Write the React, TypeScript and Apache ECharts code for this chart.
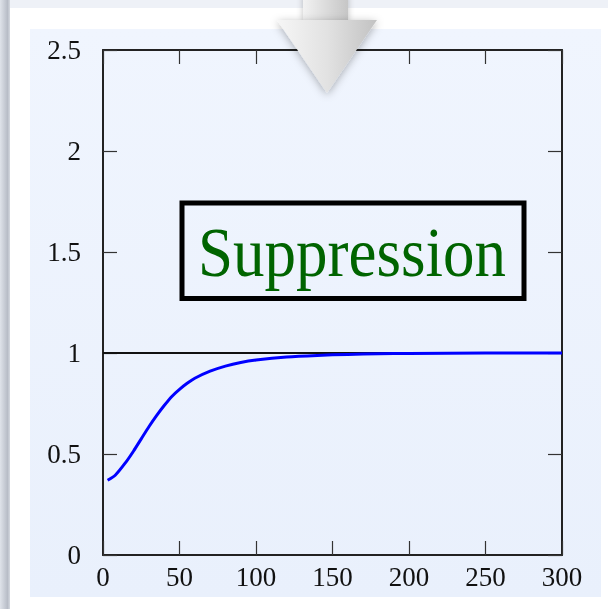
import React, { useEffect, useRef } from "react";
import * as echarts from "echarts";

// Response curve (x, ratio) and the reference level
const curveX = [3, 8, 15, 20, 25, 30, 35, 40, 45, 50, 55, 60, 70, 80, 90, 100, 120, 140, 160, 180, 200, 250, 300];
const curveY = [0.37, 0.395, 0.46, 0.515, 0.575, 0.635, 0.69, 0.74, 0.785, 0.82, 0.85, 0.875, 0.91, 0.935, 0.953, 0.965, 0.98, 0.988, 0.993, 0.996, 0.998, 1.0, 1.0];
const refX = [0, 300];
const refY = [1, 1];

const xTicks = [0, 50, 100, 150, 200, 250, 300];
const yTicks = [0, 0.5, 1, 1.5, 2, 2.5];
const boxLabel = "Suppression";

const SERIF = "'Liberation Serif', 'DejaVu Serif', serif";

export default function App() {
  const ref = useRef<HTMLDivElement>(null);

  useEffect(() => {
    if (!ref.current) return;
    const chart = echarts.init(ref.current, undefined, { renderer: "svg" });

    const axisLine = { show: true, onZero: false, lineStyle: { color: "#222", width: 2 } };
    const axisTick = { show: true, inside: true, length: 14, lineStyle: { color: "#333", width: 1.2 } };
    const labelStyle = { color: "#111", fontFamily: SERIF, fontSize: 27 };

    chart.setOption({
      animation: false,
      grid: { left: 103, right: 46, top: 50, bottom: 54, containLabel: false },
      xAxis: [
        {
          type: "value",
          position: "bottom",
          min: xTicks[0],
          max: xTicks[xTicks.length - 1],
          interval: 50,
          axisLine,
          axisTick,
          splitLine: { show: false },
          axisLabel: { ...labelStyle, margin: 8 },
        },
        {
          type: "value",
          position: "top",
          min: xTicks[0],
          max: xTicks[xTicks.length - 1],
          interval: 50,
          axisLine,
          axisTick,
          splitLine: { show: false },
          axisLabel: { show: false },
        },
      ],
      yAxis: [
        {
          type: "value",
          position: "left",
          min: yTicks[0],
          max: yTicks[yTicks.length - 1],
          interval: 0.5,
          axisLine,
          axisTick,
          splitLine: { show: false },
          axisLabel: { ...labelStyle, margin: 22 },
        },
        {
          type: "value",
          position: "right",
          min: yTicks[0],
          max: yTicks[yTicks.length - 1],
          interval: 0.5,
          axisLine,
          axisTick,
          splitLine: { show: false },
          axisLabel: { show: false },
        },
      ],
      series: [
        {
          type: "line",
          data: refX.map((x, i) => [x, refY[i]]),
          showSymbol: false,
          lineStyle: { color: "#111", width: 2 },
          z: 3,
        },
        {
          type: "line",
          data: curveX.map((x, i) => [x, curveY[i]]),
          smooth: 0.3,
          showSymbol: false,
          lineStyle: { color: "#0000ff", width: 3 },
          z: 4,
        },
      ],
      graphic: [
        // page backdrop
        { type: "rect", z: -100, silent: true, shape: { x: 0, y: 0, width: 608, height: 609 }, style: { fill: "#eef1f7" } },
        {
          type: "rect", z: -99, silent: true,
          shape: { x: 0, y: 0, width: 10, height: 609 },
          style: {
            fill: new echarts.graphic.LinearGradient(0, 0, 1, 0, [
              { offset: 0, color: "#dfe3ea" },
              { offset: 0.75, color: "#b8bdc7" },
              { offset: 1, color: "#d5d9e0" },
            ]),
          },
        },
        { type: "rect", z: -98, silent: true, shape: { x: 10, y: 8, width: 598, height: 601 }, style: { fill: "#ffffff" } },
        {
          type: "rect", z: -97, silent: true,
          shape: { x: 30, y: 29, width: 571, height: 568 },
          style: {
            fill: new echarts.graphic.LinearGradient(0, 0, 0, 1, [
              { offset: 0, color: "#f0f5fe" },
              { offset: 1, color: "#e9f0fc" },
            ]),
          },
        },
        // labelled box
        {
          type: "rect", z: 50, silent: true,
          shape: { x: 182, y: 203, width: 342, height: 95.5 },
          style: { fill: "rgba(0,0,0,0)", stroke: "#000", lineWidth: 5 },
        },
        {
          type: "text", z: 51, silent: true,
          x: 352, y: 252, scaleY: 1.1,
          style: {
            text: boxLabel,
            fill: "#006400",
            font: `63px ${SERIF}`,
            align: "center",
            verticalAlign: "middle",
          },
        },
        // down arrow
        {
          type: "group", z: 100,
          children: [
            {
              type: "rect", z: 100,
              shape: { x: 303, y: -5, width: 45, height: 27 },
              style: {
                fill: new echarts.graphic.LinearGradient(0, 0, 1, 0, [
                  { offset: 0, color: "#f2f2f2" },
                  { offset: 1, color: "#c6c6c6" },
                ]),
                shadowBlur: 6, shadowColor: "rgba(0,0,0,0.25)",
              },
            },
            {
              type: "polygon", z: 101,
              shape: { points: [[277, 20], [377, 20], [327, 93]] },
              style: {
                fill: new echarts.graphic.LinearGradient(0, 0, 1, 0, [
                  { offset: 0, color: "#f6f6f6" },
                  { offset: 0.5, color: "#e2e2e2" },
                  { offset: 1, color: "#c2c2c2" },
                ]),
                shadowBlur: 8, shadowColor: "rgba(0,0,0,0.3)", shadowOffsetY: 2,
              },
            },
          ],
        },
      ],
    });

    return () => chart.dispose();
  }, []);

  return <div ref={ref} style={{ position: "fixed", left: 0, top: 0, width: 608, height: 609 }} />;
}
